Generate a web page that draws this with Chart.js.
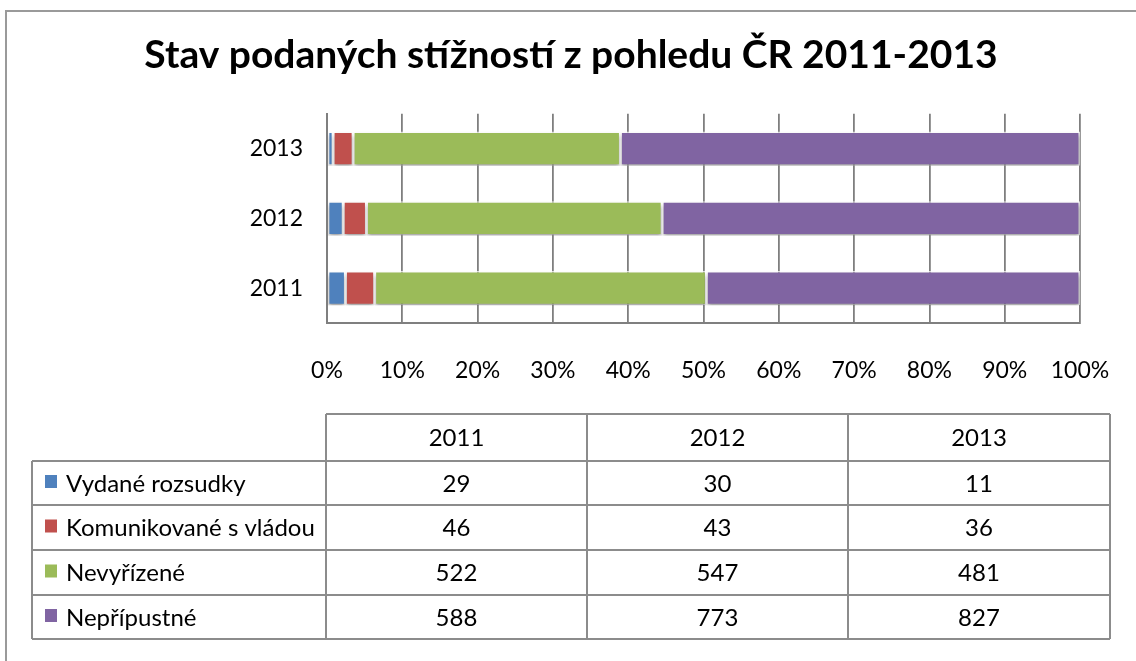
<!DOCTYPE html>
<html>
<head>
<meta charset="utf-8">
<script src="https://cdn.jsdelivr.net/npm/chart.js@4"></script>
<style>
  body { margin: 0; background: #fff; }
  #wrap { width: 1136px; height: 661px; position: relative; }
</style>
</head>
<body>
<div id="wrap"><canvas id="myChart"></canvas></div>
<script>
// data
const years = ['2011', '2012', '2013'];
const seriesNames = ['Vydané rozsudky', 'Komunikované s vládou', 'Nevyřízené', 'Nepřípustné'];
const vydane = [29, 30, 11];
const komunikovane = [46, 43, 36];
const nevyrizene = [522, 547, 481];
const neprípustne = [588, 773, 827];
const xTicks = [0, 10, 20, 30, 40, 50, 60, 70, 80, 90, 100];

const colors = ['#4F81BD', '#C0504D', '#9BBB59', '#8064A2'];
const raw = [vydane, komunikovane, nevyrizene, neprípustne];

// 100% stacked -> convert to share of year total
const totals = years.map((y, i) => raw.reduce((s, arr) => s + arr[i], 0));
const pct = raw.map(arr => arr.map((v, i) => v / totals[i] * 100));

const FONT = 'Lato, "Open Sans", sans-serif';

// outer frame (left + top line, like the cropped picture)
const framePlugin = {
    id: 'frame',
    beforeDraw(chart) {
        const ctx = chart.ctx;
        ctx.save();
        ctx.strokeStyle = '#9a9a9a';
        ctx.lineWidth = 2;
        ctx.beginPath();
        ctx.moveTo(6, 661);
        ctx.lineTo(6, 11);
        ctx.lineTo(1136, 11);
        ctx.stroke();
        ctx.restore();
    }
};

// soft shadow under the bars
const shadowPlugin = {
    id: 'barShadow',
    beforeDatasetsDraw(chart) {
        const ctx = chart.ctx;
        ctx.save();
        ctx.shadowColor = 'rgba(0,0,0,0.35)';
        ctx.shadowBlur = 4;
        ctx.shadowOffsetY = 3;
    },
    afterDatasetsDraw(chart) {
        chart.ctx.restore();
    }
};

// data table under the axis
const tablePlugin = {
    id: 'dataTable',
    afterDraw(chart) {
        const ctx = chart.ctx;
        const left = 32;
        const colEdges = [326, 587, 848, 1110];
        const rowEdges = [414, 461, 505, 550, 595, 639];
        ctx.save();
        ctx.strokeStyle = '#8c8c8c';
        ctx.lineWidth = 2;
        ctx.beginPath();
        // header row
        ctx.moveTo(colEdges[0], rowEdges[0]); ctx.lineTo(colEdges[3], rowEdges[0]);
        for (let r = 1; r < rowEdges.length; r++) {
            ctx.moveTo(left, rowEdges[r]); ctx.lineTo(colEdges[3], rowEdges[r]);
        }
        ctx.moveTo(left, rowEdges[1]); ctx.lineTo(left, rowEdges[5]);
        colEdges.forEach(x => { ctx.moveTo(x, rowEdges[0]); ctx.lineTo(x, rowEdges[5]); });
        ctx.stroke();

        ctx.fillStyle = '#000';
        ctx.font = '24px ' + FONT;
        ctx.textBaseline = 'middle';
        ctx.textAlign = 'center';
        chart.data.labels.forEach((y, c) => {
            ctx.fillText(y, (colEdges[c] + colEdges[c + 1]) / 2, (rowEdges[0] + rowEdges[1]) / 2 + 1);
        });
        chart.data.datasets.forEach((ds, r) => {
            const cy = (rowEdges[r + 1] + rowEdges[r + 2]) / 2 + 1;
            ctx.fillStyle = ds.backgroundColor;
            ctx.fillRect(45, cy - 9, 12, 13);
            ctx.fillStyle = '#000';
            ctx.textAlign = 'left';
            ctx.fillText(ds.label, 66, cy);
            ctx.textAlign = 'center';
            ds.rawValues.forEach((v, c) => {
                ctx.fillText(String(v), (colEdges[c] + colEdges[c + 1]) / 2, cy);
            });
        });
        ctx.restore();
    }
};

const ctx = document.getElementById('myChart').getContext('2d');
const myChart = new Chart(ctx, {
    type: 'bar',
    data: {
        labels: years,
        datasets: seriesNames.map((name, i) => ({
            label: name,
            data: pct[i],
            rawValues: raw[i],
            backgroundColor: colors[i],
            borderColor: 'rgba(255,255,255,0.75)',
            borderWidth: 1.5,
            borderSkipped: false,
            barPercentage: 0.49,
            categoryPercentage: 1
        }))
    },
    options: {
        indexAxis: 'y',
        responsive: true,
        maintainAspectRatio: false,
        animation: false,
        layout: { padding: { left: 62, right: 56, top: 18, bottom: 0 } },
        plugins: {
            legend: { display: false },
            tooltip: { enabled: false },
            title: {
                display: true,
                text: 'Stav podaných stížností z pohledu ČR 2011-2013',
                color: '#000',
                font: { family: FONT, size: 39, weight: 'bold' },
                padding: { top: 14, bottom: 35 }
            }
        },
        scales: {
            x: {
                stacked: true,
                min: 0,
                max: 100,
                afterBuildTicks(scale) {
                    scale.ticks = xTicks.map(v => ({ value: v }));
                },
                afterFit(scale) { scale.height = 338; },
                // invisible tick marks give the gap between axis and labels
                grid: { color: '#7f7f7f', lineWidth: 1.8, tickLength: 34, tickColor: 'rgba(0,0,0,0)' },
                border: { display: true, color: '#7f7f7f', width: 2 },
                ticks: {
                    padding: 0,
                    color: '#000',
                    font: { family: FONT, size: 23 },
                    callback: v => v + '%'
                }
            },
            y: {
                stacked: true,
                reverse: true,
                afterFit(scale) { scale.width = 265; },
                grid: { display: false, drawTicks: false, tickLength: 0 },
                border: { display: true, color: '#7f7f7f', width: 2 },
                ticks: {
                    padding: 24,
                    color: '#000',
                    font: { family: FONT, size: 23 }
                }
            }
        }
    },
    plugins: [framePlugin, shadowPlugin, tablePlugin]
});
</script>
</body>
</html>
